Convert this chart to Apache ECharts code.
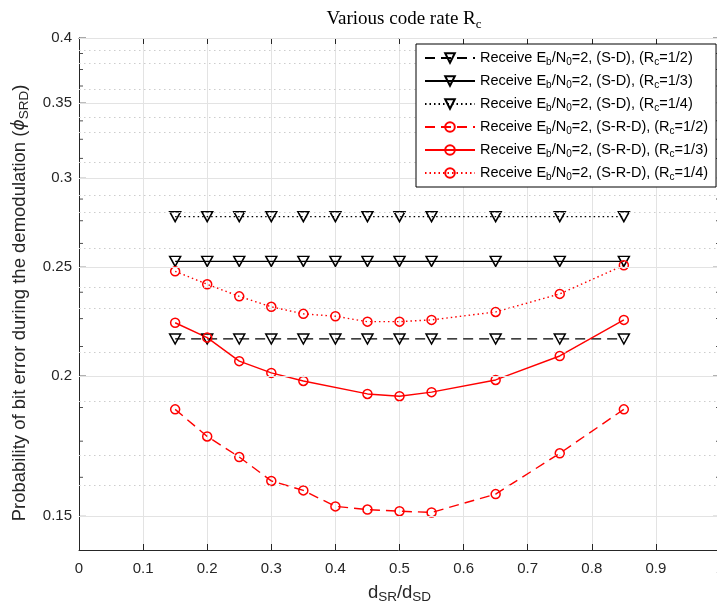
<!DOCTYPE html>
<html>
<head>
<meta charset="utf-8">
<script src="https://cdn.jsdelivr.net/npm/echarts@6/dist/echarts.min.js"></script>
<style>
html,body{margin:0;padding:0;background:#fff;}
#chart{width:717px;height:610px;}
</style>
</head>
<body>
<div id="chart"></div>
<script>
// ---- data ----
const xFull = [0.15, 0.2, 0.25, 0.3, 0.35, 0.4, 0.45, 0.5, 0.55, 0.65, 0.75, 0.85];
const xSRD13 = [0.15, 0.2, 0.25, 0.3, 0.35, 0.45, 0.5, 0.55, 0.65, 0.75, 0.85];

const sdRc12 = [0.2158, 0.2158, 0.2158, 0.2158, 0.2158, 0.2158, 0.2158, 0.2158, 0.2158, 0.2158, 0.2158, 0.2158];
const sdRc13 = [0.2530, 0.2530, 0.2530, 0.2530, 0.2530, 0.2530, 0.2530, 0.2530, 0.2530, 0.2530, 0.2530, 0.2530];
const sdRc14 = [0.2773, 0.2773, 0.2773, 0.2773, 0.2773, 0.2773, 0.2773, 0.2773, 0.2773, 0.2773, 0.2773, 0.2773];
const srdRc12 = [0.1868, 0.1767, 0.1694, 0.1613, 0.1582, 0.1531, 0.1521, 0.1516, 0.1512, 0.1570, 0.1707, 0.1868];
const srdRc13 = [0.2231, 0.2164, 0.2062, 0.2013, 0.1980, 0.1928, 0.1919, 0.1935, 0.1984, 0.2084, 0.2244];
const srdRc14 = [0.2479, 0.2414, 0.2355, 0.2305, 0.2272, 0.2261, 0.2236, 0.2236, 0.2244, 0.2281, 0.2367, 0.2510];

const xTicks = [0, 0.1, 0.2, 0.3, 0.4, 0.5, 0.6, 0.7, 0.8, 0.9, 1];
const yMajorTicks = [0.15, 0.2, 0.25, 0.3, 0.35, 0.4];
const yMinorTicks = [0.1625, 0.175, 0.1875, 0.2125, 0.225, 0.2375, 0.2625, 0.275, 0.2875,
                     0.3125, 0.325, 0.3375, 0.3625, 0.375, 0.3875];
const yMin = 0.14, yMax = 0.4;

const seriesNames = [
  'Receive E{sub|b}/N{sub|0}=2, (S-D), (R{sub|c}=1/2)',
  'Receive E{sub|b}/N{sub|0}=2, (S-D), (R{sub|c}=1/3)',
  'Receive E{sub|b}/N{sub|0}=2, (S-D), (R{sub|c}=1/4)',
  'Receive E{sub|b}/N{sub|0}=2, (S-R-D), (R{sub|c}=1/2)',
  'Receive E{sub|b}/N{sub|0}=2, (S-R-D), (R{sub|c}=1/3)',
  'Receive E{sub|b}/N{sub|0}=2, (S-R-D), (R{sub|c}=1/4)'
];

const zip = (xs, ys) => xs.map((x, i) => [x, ys[i]]);
const AX = '#262626';
const FONT = '"Liberation Sans", Arial, Helvetica, sans-serif';

function dataSeries(name, xs, ys, color, dash, isTri) {
  return {
    name: name,
    type: 'line',
    data: zip(xs, ys),
    symbol: isTri ? 'triangle' : 'circle',
    symbolRotate: isTri ? 180 : 0,
    symbolSize: isTri ? [11, 10] : 9,
    showSymbol: true,
    z: 3,
    lineStyle: { color: color, width: isTri ? 1.2 : 1.4, type: dash },
    itemStyle: { color: 'rgba(255,255,255,0)', borderColor: color, borderWidth: 1.5 },
    emphasis: { disabled: true },
    clip: false
  };
}

const tickSeries = (xv, vals, len, off) => ({
  type: 'scatter',
  data: vals.map(v => [xv, v]),
  symbol: 'rect',
  symbolSize: [len, 1],
  symbolOffset: [off, 0],
  itemStyle: { color: AX },
  silent: true,
  clip: false,
  z: 3,
  emphasis: { disabled: true }
});

const chart = echarts.init(document.getElementById('chart'), null, { renderer: 'canvas' });

const subRich = {
  sub: { fontSize: 10, fontFamily: FONT, color: '#000', verticalAlign: 'bottom', lineHeight: 11 }
};

chart.setOption({
  animation: false,
  backgroundColor: '#fff',
  title: {
    text: 'Various code rate R{sub|c}',
    left: 399, top: 2, textAlign: 'center',
    textStyle: {
      fontFamily: '"Liberation Serif", "Times New Roman", serif',
      fontSize: 19, fontWeight: 'normal', color: '#000', lineHeight: 24,
      rich: {
        sub: { fontFamily: '"Liberation Serif", serif', fontSize: 13, verticalAlign: 'bottom', lineHeight: 14, color: '#000' }
      }
    }
  },
  legend: {
    data: seriesNames,
    orient: 'vertical',
    left: 416, top: 44,
    padding: [5, 8, 5, 8],
    itemGap: 5,
    itemWidth: 50, itemHeight: 12,
    backgroundColor: '#fff',
    borderColor: '#000', borderWidth: 1,
    selectedMode: false,
    z: 10,
    textStyle: {
      fontFamily: FONT, fontSize: 14.5, color: '#000', lineHeight: 18,
      rich: subRich
    }
  },
  grid: { left: 79, top: 38, width: 641, height: 512, containLabel: false, outerBoundsMode: 'none' },
  xAxis: [{
    type: 'value', min: 0, max: 1, interval: 0.1,
    position: 'bottom',
    name: 'd{sub|SR}/d{sub|SD}',
    nameLocation: 'middle', nameGap: 32,
    nameTextStyle: {
      fontFamily: FONT, fontSize: 18.5, color: AX, lineHeight: 22,
      rich: { sub: { fontFamily: FONT, fontSize: 13.5, color: AX, verticalAlign: 'bottom', lineHeight: 14 } }
    },
    axisLine: { show: true, lineStyle: { color: AX, width: 1 } },
    axisTick: { show: true, inside: true, length: 6, lineStyle: { color: AX } },
    axisLabel: { fontFamily: FONT, fontSize: 15, color: AX, margin: 11,
      formatter: v => String(Math.round(v * 10) / 10) },
    splitLine: { show: true, lineStyle: { color: '#e3e3e3', width: 1 } }
  }, {
    type: 'value', min: 0, max: 1, interval: 0.1,
    position: 'top',
    axisLine: { show: true, lineStyle: { color: AX, width: 1 } },
    axisTick: { show: true, inside: true, length: 6, lineStyle: { color: AX } },
    axisLabel: { show: false },
    splitLine: { show: false }
  }],
  yAxis: [{
    type: 'log', min: yMin, max: yMax,
    name: 'Probability of bit error during the demodulation ({phi|ϕ}{sub|SRD})',
    nameLocation: 'middle', nameGap: 48, nameRotate: 90,
    nameTextStyle: {
      fontFamily: FONT, fontSize: 18.5, color: AX, lineHeight: 22,
      padding: [0, 18, 0, 0],
      rich: {
        phi: { fontFamily: '"DejaVu Sans", sans-serif', fontStyle: 'italic', fontSize: 17, color: AX },
        sub: { fontFamily: FONT, fontSize: 13.5, color: AX, verticalAlign: 'bottom', lineHeight: 14 }
      }
    },
    axisLine: { show: true, onZero: false, lineStyle: { color: AX, width: 1 } },
    axisTick: { show: false },
    axisLabel: { show: false },
    splitLine: { show: false },
    minorSplitLine: { show: false }
  }],
  series: [
    {
      type: 'line', data: [], silent: true, z: 1,
      markLine: {
        silent: true, symbol: 'none', animation: false,
        lineStyle: { color: '#e3e3e3', type: 'solid', width: 1 },
        label: {
          show: true, position: 'start', distance: 7,
          fontFamily: FONT, fontSize: 15, color: AX,
          formatter: p => String(p.value)
        },
        emphasis: { disabled: true },
        data: yMajorTicks.map(v => ({ yAxis: v }))
      }
    },
    {
      type: 'line', data: [], silent: true, z: 1,
      markLine: {
        silent: true, symbol: 'none', animation: false,
        lineStyle: { color: '#cdcdcd', type: [1.5, 3.5], width: 1 },
        label: { show: false },
        emphasis: { disabled: true },
        data: yMinorTicks.map(v => ({ yAxis: v }))
      }
    },
    tickSeries(0, yMajorTicks, 7, 3.5),
    tickSeries(0, yMinorTicks, 4, 2),
    tickSeries(1, yMajorTicks, 7, -3.5),
    tickSeries(1, yMinorTicks, 4, -2),
    dataSeries(seriesNames[0], xFull, sdRc12, '#000', [10, 6], true),
    dataSeries(seriesNames[1], xFull, sdRc13, '#000', 'solid', true),
    dataSeries(seriesNames[2], xFull, sdRc14, '#000', [1.5, 3], true),
    dataSeries(seriesNames[3], xFull, srdRc12, '#ff0000', [10, 6], false),
    dataSeries(seriesNames[4], xSRD13, srdRc13, '#ff0000', 'solid', false),
    dataSeries(seriesNames[5], xFull, srdRc14, '#ff0000', [1.5, 3], false)
  ]
});
</script>
</body>
</html>
